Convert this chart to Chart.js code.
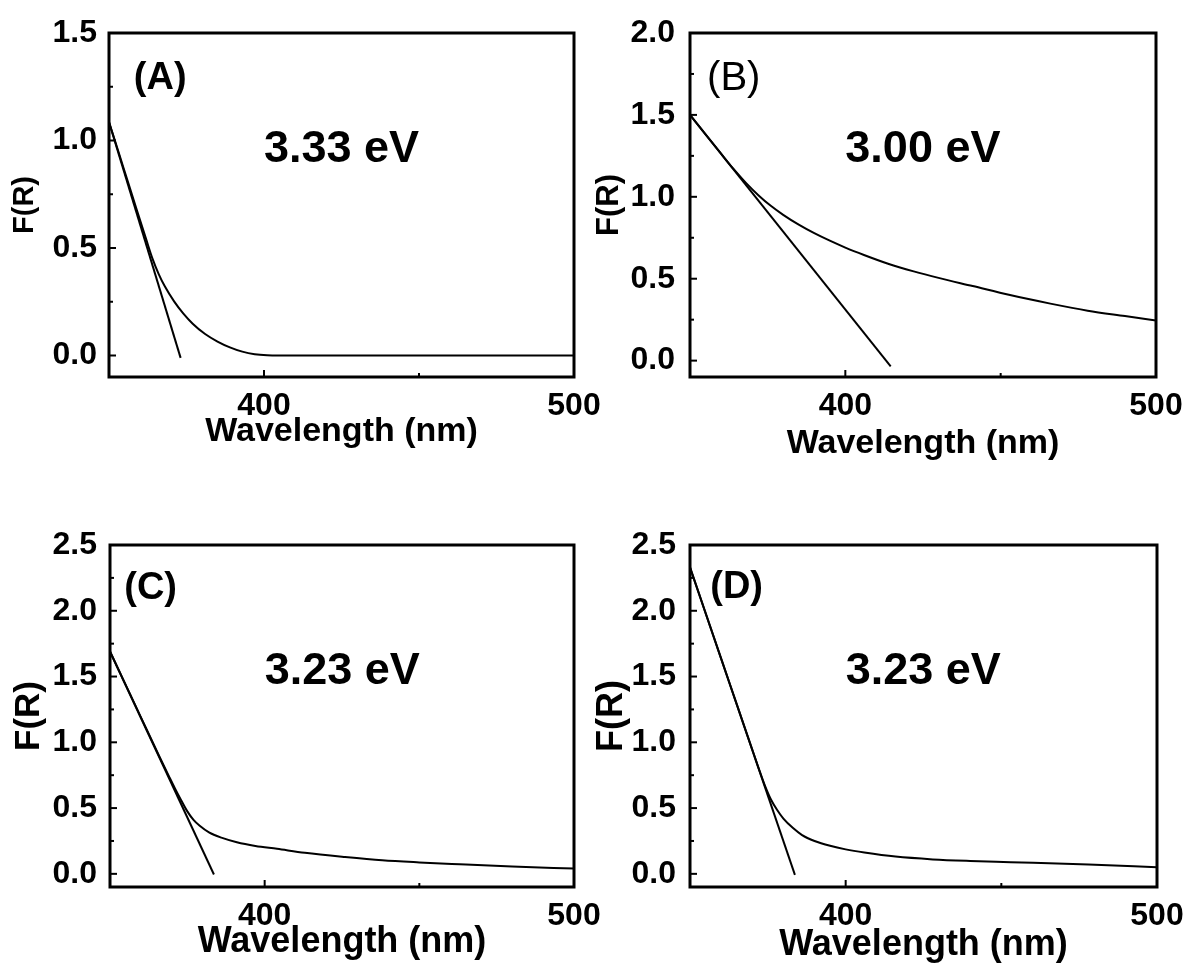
<!DOCTYPE html>
<html><head><meta charset="utf-8">
<script src="https://cdn.jsdelivr.net/npm/chart.js@4"></script>
<style>
html,body{margin:0;padding:0;background:#fff;width:1187px;height:969px;overflow:hidden}
canvas{position:absolute;left:0;top:0}
</style></head><body>
<canvas id="cA" width="1187" height="969"></canvas>
<canvas id="cB" width="1187" height="969"></canvas>
<canvas id="cC" width="1187" height="969"></canvas>
<canvas id="cD" width="1187" height="969"></canvas>
<script>
// ---------- data ----------
const xTicks = [400, 500];
const xLabel = 'Wavelength (nm)';
const yLabel = 'F(R)';

// (A)
const aWave = [350, 353, 356, 359, 362, 364, 366, 368, 371, 374, 377, 381, 385, 389, 393, 397, 401, 405, 420, 450, 500];
const aFR   = [1.086, 0.95, 0.812, 0.675, 0.54, 0.452, 0.38, 0.322, 0.252, 0.195, 0.148, 0.1, 0.065, 0.038, 0.018, 0.006, 0.001, 0, 0, 0, 0];
const aTanWave = [350, 373.1];
const aTanFR   = [1.086, -0.011];
const aYTicks  = [0, 0.5, 1.0, 1.5];
const aGap = '3.33 eV';
const aTag = '(A)';

// (B)
const bWave = [350, 355, 360, 364, 368, 372, 376, 380, 385, 390, 395, 400, 406, 414, 422, 430, 441, 453, 466, 478, 490, 500];
const bFR   = [1.5, 1.381, 1.263, 1.17, 1.085, 1.01, 0.945, 0.89, 0.83, 0.778, 0.732, 0.69, 0.645, 0.59, 0.545, 0.505, 0.455, 0.4, 0.348, 0.305, 0.272, 0.245];
const bTanWave = [350, 414.6];
const bTanFR   = [1.5, -0.035];
const bYTicks  = [0, 0.5, 1.0, 1.5, 2.0];
const bGap = '3.00 eV';
const bTag = '(B)';

// (C)
const cWave = [350, 354, 358, 362, 366, 369, 371, 373, 375, 377, 379, 382, 386, 391, 397, 404, 413, 426, 438, 450, 463, 480, 500];
const cFR   = [1.69, 1.49, 1.29, 1.09, 0.89, 0.745, 0.65, 0.56, 0.475, 0.41, 0.365, 0.315, 0.275, 0.24, 0.212, 0.19, 0.16, 0.128, 0.103, 0.087, 0.073, 0.056, 0.04];
const cTanWave = [350, 383.6];
const cTanFR   = [1.69, -0.005];
const cYTicks  = [0, 0.5, 1.0, 1.5, 2.0, 2.5];
const cGap = '3.23 eV';
const cTag = '(C)';

// (D)
const dWave = [350, 355, 360, 365, 369, 372, 374, 376, 378, 380, 383, 386, 390, 395, 400, 406, 416, 428, 440, 453, 478, 500];
const dFR   = [2.33, 1.983, 1.636, 1.29, 1.013, 0.806, 0.675, 0.565, 0.485, 0.42, 0.35, 0.295, 0.25, 0.213, 0.186, 0.162, 0.131, 0.11, 0.098, 0.089, 0.071, 0.05];
const dTanWave = [350, 383.7];
const dTanFR   = [2.33, -0.008];
const dYTicks  = [0, 0.5, 1.0, 1.5, 2.0, 2.5];
const dGap = '3.23 eV';
const dTag = '(D)';

// ---------- rendering ----------
const FONT = '"Liberation Sans", Arial, Helvetica, sans-serif';

const decor = {
  id: 'decor',
  afterDatasetsDraw(chart, args, o) {
    const {ctx, chartArea: a, scales: {x, y}} = chart;
    ctx.save();
    ctx.strokeStyle = '#000';
    ctx.lineWidth = 2;
    const tickX = (v, len) => { const p = x.getPixelForValue(v); ctx.beginPath(); ctx.moveTo(p, a.bottom); ctx.lineTo(p, a.bottom - len); ctx.stroke(); };
    const tickY = (v, len) => { const p = y.getPixelForValue(v); ctx.beginPath(); ctx.moveTo(a.left, p); ctx.lineTo(a.left + len, p); ctx.stroke(); };
    const xv = x.ticks.map(t => t.value), yv = y.ticks.map(t => t.value);
    xv.forEach(v => tickX(v, 7));
    for (let i = 1; i < xv.length; i++) tickX((xv[i - 1] + xv[i]) / 2, 4);
    yv.forEach(v => tickY(v, 7));
    for (let i = 1; i < yv.length; i++) tickY((yv[i - 1] + yv[i]) / 2, 4);
    ctx.lineWidth = 3;
    ctx.strokeRect(a.left, a.top, a.right - a.left, a.bottom - a.top);
    ctx.fillStyle = '#000';
    ctx.textBaseline = 'middle';
    ctx.textAlign = 'left';
    ctx.font = `bold ${o.gapSize}px ${FONT}`;
    ctx.fillText(o.gap, x.getPixelForValue(o.gapPos[0]), y.getPixelForValue(o.gapPos[1]));
    ctx.font = `${o.tagBold ? 'bold ' : ''}${o.tagSize}px ${FONT}`;
    ctx.fillText(o.tag, x.getPixelForValue(o.tagPos[0]), y.getPixelForValue(o.tagPos[1]));
    ctx.restore();
  }
};

function pts(xs, ys) { return xs.map((v, i) => ({x: v, y: ys[i]})); }

function makePanel(id, d, L) {
  new Chart(document.getElementById(id), {
    type: 'line',
    data: {
      datasets: [
        {data: pts(d.wave, d.fr), borderColor: '#000', borderWidth: 2, pointRadius: 0, cubicInterpolationMode: 'monotone', fill: false},
        {data: pts(d.tanWave, d.tanFR), borderColor: '#000', borderWidth: 2, pointRadius: 0, tension: 0, fill: false}
      ]
    },
    options: {
      responsive: false,
      animation: false,
      events: [],
      layout: {padding: {left: L.padL, top: L.padT, right: L.padR, bottom: L.padB}},
      plugins: {
        legend: {display: false},
        tooltip: {enabled: false},
        decor: {gap: d.gap, tag: d.tag, gapPos: L.gapPos, tagPos: L.tagPos, gapSize: 45, tagSize: L.tagSize, tagBold: L.tagBold}
      },
      scales: {
        x: {
          type: 'linear', min: 350, max: 500,
          afterBuildTicks: s => { s.ticks = xTicks.map(v => ({value: v})); },
          afterFit: s => { s.height = L.xH; },
          grid: {display: false}, border: {display: false},
          ticks: {padding: 2, color: '#000', autoSkip: false, maxRotation: 0,
                  font: {family: FONT, size: 32, weight: 'bold'}, callback: v => String(v)},
          title: {display: true, text: xLabel, color: '#000',
                  font: {family: FONT, size: L.xTitleSize, weight: 'bold'}, padding: {top: 0, bottom: L.xTitlePad}}
        },
        y: {
          type: 'linear', min: -0.1, max: d.yMax,
          afterBuildTicks: s => { s.ticks = d.yTicks.map(v => ({value: v})); },
          afterFit: s => { s.width = L.yW; },
          grid: {display: false}, border: {display: false},
          ticks: {padding: L.yTickPad, color: '#000', autoSkip: false,
                  font: {family: FONT, size: 32, weight: 'bold'}, callback: v => Number(v).toFixed(1)},
          title: {display: true, text: yLabel, color: '#000',
                  font: {family: FONT, size: L.yTitleSize, weight: 'bold'}, padding: {top: L.yTitlePad, bottom: 0}}
        }
      }
    },
    plugins: [decor]
  });
}

makePanel('cA',
  {wave: aWave, fr: aFR, tanWave: aTanWave, tanFR: aTanFR, yTicks: aYTicks, yMax: 1.5, gap: aGap, tag: aTag},
  {padL: 0, padT: 33, padR: 613, padB: 489, yW: 109, xH: 103, yTickPad: 4, yTitleSize: 29, yTitlePad: 8,
   xTitleSize: 34, xTitlePad: 28, gapPos: [400, 0.96], tagPos: [358, 1.29], tagSize: 38, tagBold: true});
makePanel('cB',
  {wave: bWave, fr: bFR, tanWave: bTanWave, tanFR: bTanFR, yTicks: bYTicks, yMax: 2.0, gap: bGap, tag: bTag},
  {padL: 590, padT: 33, padR: 31, padB: 489, yW: 100, xH: 103, yTickPad: 7, yTitleSize: 31, yTitlePad: 1,
   xTitleSize: 34, xTitlePad: 16, gapPos: [400, 1.286], tagPos: [355.5, 1.72], tagSize: 40, tagBold: false});
makePanel('cC',
  {wave: cWave, fr: cFR, tanWave: cTanWave, tanFR: cTanFR, yTicks: cYTicks, yMax: 2.5, gap: cGap, tag: cTag},
  {padL: 0, padT: 545, padR: 613, padB: 0, yW: 110, xH: 82, yTickPad: 5, yTitleSize: 35, yTitlePad: 8,
   xTitleSize: 36, xTitlePad: 5, gapPos: [400, 1.535], tagPos: [354.6, 2.17], tagSize: 38, tagBold: true});
makePanel('cD',
  {wave: dWave, fr: dFR, tanWave: dTanWave, tanFR: dTanFR, yTicks: dYTicks, yMax: 2.5, gap: dGap, tag: dTag},
  {padL: 590, padT: 545, padR: 30, padB: 0, yW: 100, xH: 82, yTickPad: 6, yTitleSize: 36, yTitlePad: 0,
   xTitleSize: 36, xTitlePad: 2, gapPos: [400, 1.535], tagPos: [356.5, 2.18], tagSize: 38, tagBold: true});
</script>
</body></html>
